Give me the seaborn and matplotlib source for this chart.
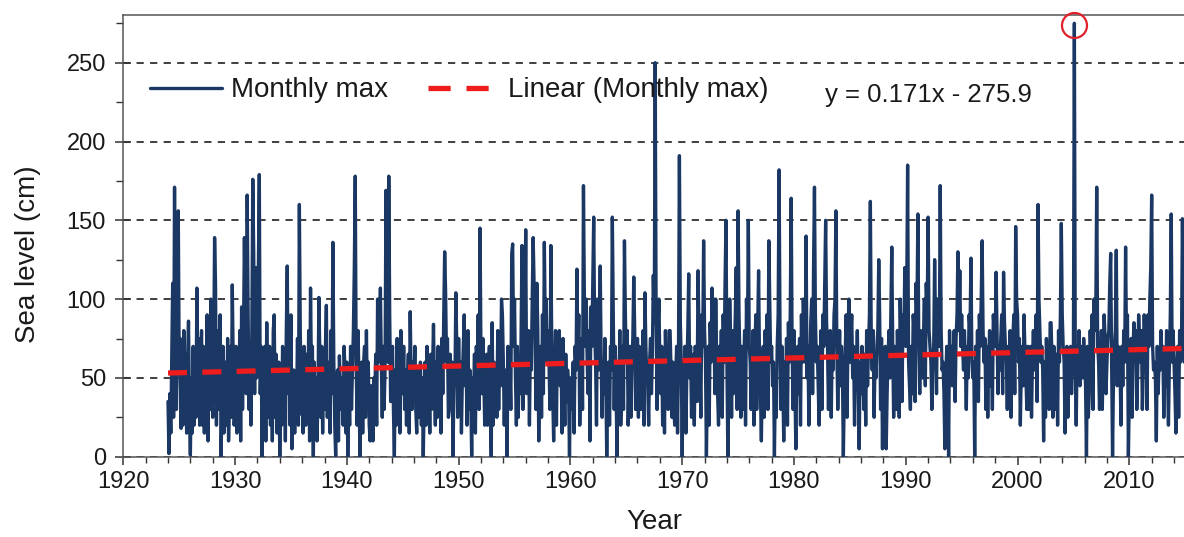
import numpy as np
import pandas as pd
import matplotlib
matplotlib.use("Agg")
import matplotlib.pyplot as plt
from matplotlib.lines import Line2D
import seaborn as sns

# ---- data: monthly maximum sea level (cm), one list per decade, starting Jan 1924 ----
start_year = 1924
mm_1920s = [35, 2, 40, 15, 60, 110, 25, 171, 70, 30, 60, 156,
            60, 75, 18, 70, 20, 80, 30, 65, 15, 60, 86, 30,
            1, 50, 15, 70, 20, 60, 25, 107, 30, 75, 20, 60,
            80, 20, 70, 15, 55, 25, 90, 10, 85, 30, 100, 40,
            25, 60, 139, 110, 20, 80, 30, 60, 90, 0, 40, 70,
            15, 40, 60, 20, 75, 10, 35, 70, 25, 109, 60, 20]
mm_1930s = [30, 70, 15, 45, 25, 80, 10, 95, 30, 75, 139, 90,
            40, 166, 90, 30, 60, 20, 80, 176, 130, 40, 120, 50,
            60, 120, 179, 40, 70, 0, 50, 20, 70, 10, 85, 25,
            30, 70, 20, 60, 10, 80, 90, 25, 65, 15, 40, 60,
            0, 45, 20, 70, 25, 60, 10, 80, 121, 40, 70, 20,
            90, 5, 40, 55, 15, 50, 35, 75, 20, 160, 80, 27,
            50, 15, 70, 60, 20, 65, 30, 80, 10, 107, 50, 70,
            0, 60, 30, 50, 10, 40, 101, 65, 25, 70, 15, 60,
            30, 70, 96, 25, 45, 60, 15, 80, 40, 136, 60, 20,
            0, 40, 55, 10, 64, 45, 30, 50, 20, 70, 55, 15]
mm_1940s = [60, 0, 45, 20, 70, 30, 55, 80, 120, 178, 60, 20,
            80, 50, 0, 30, 60, 15, 60, 70, 25, 80, 35, 60,
            20, 10, 45, 30, 10, 50, 40, 65, 20, 100, 60, 75,
            107, 60, 25, 70, 30, 55, 169, 110, 60, 178, 90, 35,
            50, 70, 30, 0, 55, 20, 75, 25, 60, 15, 80, 40,
            40, 70, 30, 55, 20, 45, 65, 15, 92, 50, 30, 60,
            45, 70, 30, 15, 55, 25, 40, 60, 20, 50, 0, 35,
            60, 20, 70, 25, 50, 15, 65, 30, 55, 84, 45, 20,
            60, 25, 70, 30, 55, 15, 75, 40, 90, 130, 105, 60,
            75, 25, 30, 65, 40, 60, 0, 50, 45, 104, 70, 25]
mm_1950s = [75, 40, 60, 15, 50, 70, 90, 45, 60, 20, 80, 30,
            55, 40, 0, 50, 35, 65, 15, 70, 55, 90, 30, 145,
            60, 40, 75, 50, 20, 45, 65, 20, 55, 70, 30, 0,
            85, 20, 60, 35, 55, 25, 80, 30, 70, 45, 100, 90,
            60, 20, 55, 45, 0, 70, 35, 60, 30, 129, 135, 70,
            100, 50, 20, 70, 25, 60, 40, 75, 134, 30, 90, 70,
            144, 40, 60, 80, 20, 70, 55, 100, 139, 110, 80, 30,
            110, 80, 10, 50, 70, 25, 90, 40, 136, 80, 100, 60,
            80, 60, 30, 134, 70, 40, 10, 55, 80, 20, 75, 50,
            80, 45, 60, 15, 75, 50, 20, 65, 35, 55, 45, 0]
mm_1960s = [50, 30, 45, 60, 15, 70, 55, 119, 60, 90, 20, 50,
            75, 30, 172, 100, 70, 100, 60, 40, 80, 10, 95, 70,
            110, 152, 80, 60, 20, 100, 55, 80, 121, 60, 25, 60,
            40, 75, 50, 0, 45, 60, 20, 70, 55, 152, 90, 30,
            70, 45, 0, 60, 35, 80, 20, 40, 70, 30, 137, 90,
            60, 80, 20, 50, 70, 25, 60, 75, 114, 80, 30, 50,
            75, 25, 70, 60, 30, 55, 80, 20, 104, 70, 50, 45,
            20, 60, 75, 40, 65, 115, 85, 250, 90, 30, 80, 100,
            60, 40, 70, 20, 55, 15, 80, 45, 60, 30, 80, 80,
            55, 25, 60, 30, 20, 50, 70, 15, 65, 191, 85, 60]
mm_1970s = [0, 60, 45, 70, 15, 55, 80, 116, 50, 70, 25, 60,
            65, 20, 70, 55, 35, 118, 80, 60, 25, 90, 70, 137,
            80, 60, 0, 45, 70, 20, 85, 60, 107, 80, 100, 40,
            100, 60, 40, 20, 70, 45, 80, 25, 90, 60, 110, 150,
            60, 0, 45, 100, 70, 25, 80, 40, 65, 90, 120, 30,
            156, 90, 60, 25, 70, 30, 55, 80, 20, 100, 70, 150,
            70, 60, 30, 55, 80, 20, 65, 90, 30, 80, 118, 60,
            40, 10, 55, 70, 25, 80, 60, 90, 30, 137, 100, 60,
            70, 45, 60, 0, 50, 25, 70, 90, 182, 80, 30, 70,
            50, 10, 60, 45, 75, 20, 85, 60, 90, 164, 70, 30]
mm_1980s = [80, 45, 5, 55, 70, 40, 75, 20, 90, 60, 100, 80,
            60, 140, 50, 70, 20, 55, 85, 100, 40, 120, 171, 90,
            60, 70, 45, 20, 55, 80, 30, 90, 70, 110, 150, 85,
            70, 30, 60, 80, 25, 70, 55, 90, 100, 156, 70, 30,
            60, 80, 45, 70, 55, 0, 40, 65, 90, 25, 80, 100,
            60, 75, 90, 50, 70, 20, 65, 55, 80, 45, 5, 60,
            40, 70, 55, 30, 65, 20, 80, 45, 70, 90, 162, 70,
            55, 80, 25, 60, 50, 70, 80, 125, 90, 30, 75, 5,
            60, 45, 70, 5, 40, 65, 80, 50, 90, 133, 70, 25,
            70, 55, 30, 80, 60, 25, 100, 70, 35, 90, 80, 120]
mm_1990s = [70, 100, 185, 60, 45, 30, 70, 40, 90, 80, 35, 110,
            90, 154, 70, 40, 80, 60, 50, 75, 100, 45, 110, 90,
            152, 80, 70, 60, 30, 55, 70, 125, 80, 40, 100, 90,
            70, 172, 80, 55, 60, 40, 5, 50, 70, 60, 0, 80,
            50, 70, 45, 60, 80, 35, 75, 90, 130, 80, 118, 70,
            90, 70, 55, 80, 60, 30, 70, 50, 90, 80, 126, 60,
            50, 60, 0, 70, 45, 80, 35, 90, 70, 100, 137, 80,
            60, 75, 30, 70, 25, 60, 80, 45, 70, 30, 90, 80,
            70, 117, 80, 40, 70, 55, 75, 90, 40, 117, 85, 70,
            60, 30, 70, 55, 80, 25, 60, 75, 90, 40, 146, 100]
mm_2000s = [90, 60, 75, 20, 55, 70, 45, 90, 65, 50, 30, 70,
            30, 55, 70, 25, 60, 80, 55, 70, 90, 35, 160, 100,
            80, 60, 70, 55, 10, 60, 25, 75, 50, 70, 30, 85,
            85, 60, 25, 70, 55, 30, 65, 20, 80, 60, 90, 148,
            90, 70, 60, 15, 50, 70, 25, 60, 55, 70, 40, 60,
            70, 275, 60, 20, 70, 55, 80, 45, 70, 60, 50, 75,
            60, 45, 0, 70, 25, 40, 80, 60, 90, 30, 100, 80,
            90, 171, 70, 60, 30, 55, 80, 30, 70, 90, 75, 40,
            60, 75, 80, 110, 129, 60, 0, 50, 70, 80, 131, 45,
            70, 55, 60, 20, 70, 45, 80, 60, 133, 70, 90, 0]
mm_2010s = [40, 60, 75, 25, 70, 85, 60, 80, 30, 55, 90, 75,
            60, 80, 30, 55, 90, 65, 80, 30, 90, 70, 100, 120,
            166, 70, 55, 60, 50, 10, 70, 40, 65, 55, 80, 60,
            70, 25, 60, 45, 80, 55, 20, 60, 90, 154, 60, 80,
            60, 40, 15, 55, 70, 25, 80, 60, 70, 151, 95, 60]

# linear trend as printed on the chart: y = 0.171x - 275.9
trend_slope = 0.171
trend_intercept = -275.9
trend_label = "y = 0.171x - 275.9"
series_labels = ["Monthly max", "Linear (Monthly max)"]

x_ticks = list(range(1920, 2011, 10))
y_ticks = [0, 50, 100, 150, 200, 250]
peak_year, peak_level = 2005.08, 274  # circled maximum

# ---- assemble ----
values = (mm_1920s + mm_1930s + mm_1940s + mm_1950s + mm_1960s +
          mm_1970s + mm_1980s + mm_1990s + mm_2000s + mm_2010s)
years = start_year + np.arange(len(values)) / 12.0
df = pd.DataFrame({"year": years, "level": values})
trend_years = np.array([years[0], 2015.0])
df_trend = pd.DataFrame({"year": trend_years,
                         "level": trend_slope * trend_years + trend_intercept})

sns.set_style("ticks")
plt.rcParams["font.family"] = ["Liberation Sans", "DejaVu Sans"]

W, H = 1184, 537
fig = plt.figure(figsize=(W / 100, H / 100), dpi=100)
left_px, bottom_px = 123.3, 456.7
px_per_year, px_per_cm = 11.178, 1.576
xmin, xmax, ymin, ymax = 1920, 2015, 0, 280
ax = fig.add_axes([left_px / W, (H - bottom_px) / H,
                   (xmax - xmin) * px_per_year / W,
                   (ymax - ymin) * px_per_cm / H])

ax.yaxis.grid(True, linestyle=(0, (4, 3.5)), linewidth=1.3, color="#303030")
ax.set_axisbelow(True)

navy = "#1b3864"
red = "#ee1c1c"
sns.lineplot(data=df, x="year", y="level", ax=ax, color=navy, linewidth=2.4,
             estimator=None, sort=False, label=series_labels[0], zorder=3)
sns.lineplot(data=df_trend, x="year", y="level", ax=ax, color=red,
             linewidth=3.8, linestyle=(0, (3.6, 2.9)), estimator=None,
             label=series_labels[1], zorder=4)
ax.lines[-1].set_dash_capstyle("butt")

ax.plot([peak_year], [peak_level], marker="o", markersize=18,
        markerfacecolor="none", markeredgecolor="#e0202a",
        markeredgewidth=1.6, zorder=5, clip_on=False)

ax.set_xlim(xmin, xmax)
ax.set_ylim(ymin, ymax)
ax.set_xticks(x_ticks)
ax.set_yticks(y_ticks)
ax.set_xticks(np.arange(1920, 2015, 2), minor=True)
ax.set_yticks(np.arange(0, 280, 25), minor=True)

ax.tick_params(axis="y", which="major", direction="inout", length=11,
               width=1.1, labelsize=17, pad=7, colors="#333333",
               labelcolor="#1a1a1a")
ax.tick_params(axis="y", which="minor", direction="out", length=5,
               width=1.0, colors="#333333")
ax.tick_params(axis="x", which="major", direction="out", length=6,
               width=1.1, labelsize=17, pad=4, colors="#333333",
               labelcolor="#1a1a1a")
ax.tick_params(axis="x", which="minor", direction="out", length=4,
               width=1.0, colors="#333333")

for s in ["left", "bottom", "top"]:
    ax.spines[s].set_color("#555555")
    ax.spines[s].set_linewidth(1.1)
ax.spines["right"].set_visible(False)

ax.set_xlabel("Year", fontsize=20, color="#1a1a1a")
ax.set_ylabel("Sea level (cm)", fontsize=20, color="#1a1a1a")
ax.xaxis.set_label_coords(0.5, -0.147)
ax.xaxis.label.set_verticalalignment("center")
ax.yaxis.set_label_coords(-0.0897, 0.46)
ax.yaxis.label.set_verticalalignment("center")

# legend: the trend handle shows two full dashes, as in the original
legend_trend = Line2D([], [], color=red, linewidth=3.8,
                      linestyle=(0, (4.2, 3.0)), dash_capstyle="butt")
leg = ax.legend(handles=[ax.lines[0], legend_trend], labels=series_labels,
                loc="center left", bbox_to_anchor=(0.0251, 0.83), ncol=2,
                frameon=False, fontsize=20, handlelength=2.6,
                handletextpad=0.3, columnspacing=1.45, borderpad=0,
                borderaxespad=0)
for t in leg.get_texts():
    t.set_color("#1a1a1a")

ax.text(1982.8, 229.5, trend_label, fontsize=18.5, va="center", ha="left",
        color="#1a1a1a")

fig.savefig("out.png", dpi=100)
